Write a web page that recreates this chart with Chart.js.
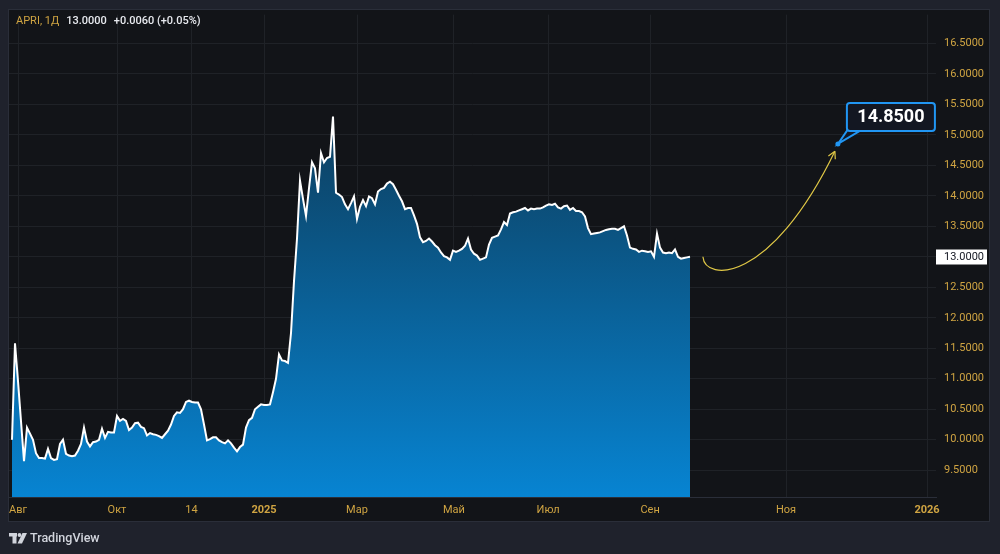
<!DOCTYPE html>
<html>
<head>
<meta charset="utf-8">
<script src="https://cdn.jsdelivr.net/npm/chart.js@4.4.1/dist/chart.umd.min.js"></script>
<style>
html, body { margin: 0; padding: 0; background: #1f222c; }
canvas { display: block; }
</style>
</head>
<body>
<canvas id="chart" width="1000" height="554"></canvas>
<script>
// daily closes, one value per sampled bar
const closes = [
  10.0, 11.58, 10.96, 10.3, 9.65, 10.2, 10.1, 10.0, 9.78, 9.70,
  9.70, 9.69, 9.85, 9.70, 9.67, 9.68, 9.93, 10.0, 9.77, 9.74,
  9.73, 9.74, 9.82, 9.93, 10.2, 9.97, 9.89, 9.96, 9.97, 10.0,
  10.18, 10.03, 10.13, 10.12, 10.12, 10.39, 10.31, 10.34, 10.31, 10.16,
  10.2, 10.27, 10.28, 10.21, 10.19, 10.07, 10.11, 10.09, 10.08, 10.06,
  10.03, 10.09, 10.15, 10.25, 10.39, 10.45, 10.44, 10.5, 10.62, 10.64,
  10.62, 10.61, 10.61, 10.5, 10.25, 9.99, 10.01, 10.04, 10.04, 9.99,
  9.96, 9.94, 9.99, 9.94, 9.87, 9.81, 9.88, 9.92, 10.2, 10.32,
  10.36, 10.5, 10.54, 10.58, 10.57, 10.57, 10.58, 10.78, 11.0, 11.4,
  11.3, 11.29, 11.26, 11.75, 12.6, 13.3, 14.25, 13.95, 13.67, 14.12,
  14.55, 14.45, 14.05, 14.7, 14.55, 14.62, 14.64, 15.3, 14.05, 14.02,
  13.98, 13.86, 13.78, 13.88, 13.99, 13.62, 13.82, 13.93, 13.83, 13.99,
  13.96, 13.86, 14.07, 14.11, 14.13, 14.2, 14.23, 14.19, 14.1, 14.0,
  13.91, 13.78, 13.8, 13.8, 13.68, 13.54, 13.32, 13.24, 13.26, 13.3,
  13.25, 13.19, 13.15, 13.07, 13.01, 12.99, 12.95, 13.1, 13.08, 13.1,
  13.13, 13.18, 13.3, 13.12, 13.05, 13.02, 12.95, 12.97, 12.99, 13.2,
  13.31, 13.33, 13.35, 13.45, 13.57, 13.52, 13.71, 13.73, 13.74, 13.76,
  13.78, 13.80, 13.76, 13.79, 13.78, 13.79, 13.79, 13.81, 13.84, 13.86,
  13.85, 13.87, 13.81, 13.79, 13.83, 13.84, 13.77, 13.80, 13.75, 13.75,
  13.73, 13.66, 13.47, 13.37, 13.38, 13.39, 13.40, 13.42, 13.44, 13.45,
  13.46, 13.46, 13.44, 13.47, 13.5, 13.35, 13.15, 13.13, 13.12, 13.08,
  13.1, 13.09, 13.08, 13.09, 13.0, 13.38, 13.15, 13.07, 13.06, 13.07,
  13.06, 13.12, 13.0, 12.97, 12.98, 12.99, 13.0
];

// time axis (bar index units)
const xTickPos = [2, 35, 59.8, 84, 115, 147.3, 178.7, 212.7, 258, 305];
const xTickLabels = ['Авг', 'Окт', '14', '2025', 'Мар', 'Май', 'Июл', 'Сен', 'Ноя', '2026'];
const yTicks = [9.5, 10, 10.5, 11, 11.5, 12, 12.5, 13, 13.5, 14, 14.5, 15, 15.5, 16, 16.5];

const symbol = 'APRI, 1Д';
const lastPrice = 13.0;
const changeText = '+0.0060 (+0.05%)';

// drawings: target callout and the forecast arrow (bar, price)
const target = { bar: 275.3, price: 14.85, label: '14.8500' };
const arrowPath = [[230.3, 13.0], [231, 12.59], [252.7, 12.54], [274.3, 14.73]];

const GOLD = '#cfa442';
const FONT = 'Roboto, "Noto Sans", sans-serif';

function areaGradient(chart) {
  const a = chart.chartArea;
  if (!a) return '#0a6aa8';
  const top = chart.scales.y.getPixelForValue(Math.max(...closes));
  const g = chart.ctx.createLinearGradient(0, top, 0, a.bottom);
  g.addColorStop(0, '#0d3e5e');
  g.addColorStop(1, '#0784d2');
  return g;
}

const tvPlugin = {
  id: 'tv',
  beforeDraw(chart) {
    const c = chart.ctx;
    c.save();
    c.fillStyle = '#1f222c';
    c.fillRect(0, 0, chart.width, chart.height);
    c.fillStyle = '#121418';
    c.fillRect(8.5, 9.5, 981, 512);
    c.strokeStyle = '#2a2e39';
    c.lineWidth = 1;
    c.strokeRect(8.5, 9.5, 981, 512);
    c.restore();
  },
  afterDraw(chart) {
    const c = chart.ctx;
    const sx = chart.scales.x, sy = chart.scales.y;
    const a = chart.chartArea;
    c.save();

    // legend line
    c.textBaseline = 'middle';
    c.font = '11px ' + FONT;
    c.fillStyle = GOLD;
    let x = 16;
    c.fillText(symbol, x, 21);
    x += c.measureText(symbol).width + 7;
    c.font = '500 11px ' + FONT;
    c.fillStyle = '#e8eaef';
    const priceTxt = lastPrice.toFixed(4);
    c.fillText(priceTxt, x, 21);
    x += c.measureText(priceTxt).width + 7;
    c.fillText(changeText, x, 21);

    // last price label
    const py = sy.getPixelForValue(lastPrice);
    c.fillStyle = '#ffffff';
    c.fillRect(a.right, Math.round(py) - 7.5, 51, 15);
    c.fillStyle = '#131722';
    c.font = '11px ' + FONT;
    c.fillText(priceTxt, a.right + 8, py);

    // forecast arrow
    const p = arrowPath.map(([b, v]) => [sx.getPixelForValue(b), sy.getPixelForValue(v)]);
    c.strokeStyle = '#e0c846';
    c.lineWidth = 1.2;
    c.beginPath();
    c.moveTo(p[0][0], p[0][1]);
    c.bezierCurveTo(p[1][0], p[1][1], p[2][0], p[2][1], p[3][0], p[3][1]);
    c.stroke();
    const ang = Math.atan2(p[3][1] - p[2][1], p[3][0] - p[2][0]);
    c.beginPath();
    [-1, 1].forEach(s => {
      c.moveTo(p[3][0], p[3][1]);
      c.lineTo(p[3][0] - 8 * Math.cos(ang + s * 0.5), p[3][1] - 8 * Math.sin(ang + s * 0.5));
    });
    c.stroke();

    // callout
    const ax = sx.getPixelForValue(target.bar), ay = sy.getPixelForValue(target.price);
    const bx = ax + 9, by = ay - 41, bw = 88, bh = 28;
    c.strokeStyle = '#2196f3';
    c.fillStyle = '#131722';
    c.lineWidth = 2;
    c.beginPath();
    c.moveTo(ax, ay);
    c.lineTo(bx + 2, by + bh - 3);
    c.lineTo(bx + 13, by + bh);
    c.closePath();
    c.fill();
    c.stroke();
    c.beginPath();
    c.roundRect(bx, by, bw, bh, 3);
    c.fill();
    c.stroke();
    c.fillStyle = '#ffffff';
    c.font = 'bold 18px ' + FONT;
    c.textAlign = 'center';
    c.fillText(target.label, bx + bw / 2, by + bh / 2 + 1);
    c.fillStyle = '#2196f3';
    c.beginPath();
    c.arc(ax, ay, 2.5, 0, Math.PI * 2);
    c.fill();

    // TradingView logo
    c.textAlign = 'left';
    c.fillStyle = '#d1d4dc';
    c.fillRect(9, 533, 8, 3.5);
    c.fillRect(12.5, 533, 4, 10.5);
    c.beginPath();
    c.arc(19.5, 535, 1.9, 0, Math.PI * 2);
    c.fill();
    c.beginPath();
    c.moveTo(22.5, 533);
    c.lineTo(27, 533);
    c.lineTo(22, 543.5);
    c.lineTo(17.5, 543.5);
    c.closePath();
    c.fill();
    c.font = '500 12.5px ' + FONT;
    c.fillText('TradingView', 30, 538.5);

    c.restore();
  }
};

new Chart(document.getElementById('chart'), {
  type: 'line',
  data: {
    datasets: [{
      data: closes.map((v, i) => ({ x: i, y: v })),
      borderColor: '#ffffff',
      borderWidth: 2,
      pointRadius: 0,
      tension: 0,
      fill: 'start',
      backgroundColor: ctx => areaGradient(ctx.chart)
    }]
  },
  options: {
    responsive: false,
    animation: false,
    devicePixelRatio: 1,
    layout: { padding: { left: 9, top: 10, right: 10, bottom: 32 } },
    plugins: { legend: { display: false }, tooltip: { enabled: false } },
    scales: {
      x: {
        type: 'linear',
        min: -1,
        max: 308,
        afterBuildTicks: s => { s.ticks = xTickPos.map(v => ({ value: v })); },
        afterFit: s => { s.height = 25; },
        ticks: {
          autoSkip: false,
          maxRotation: 0,
          padding: 7,
          color: GOLD,
          font: ctx => ({ family: FONT, size: 11, weight: /^\d{4}$/.test(xTickLabels[ctx.index]) ? 'bold' : 'normal' }),
          callback: (v, i) => xTickLabels[i]
        },
        grid: { color: '#1f2227', drawTicks: false },
        border: { display: true, color: '#2a2e39' }
      },
      y: {
        position: 'right',
        min: 9.061,
        max: 16.971,
        afterBuildTicks: s => { s.ticks = yTicks.map(v => ({ value: v })); },
        afterFit: s => { s.width = 54; },
        ticks: {
          padding: 8,
          color: GOLD,
          font: { family: FONT, size: 11 },
          callback: v => v.toFixed(4)
        },
        grid: { color: '#1f2227', drawTicks: false },
        border: { display: false }
      }
    }
  },
  plugins: [tvPlugin]
});
</script>
</body>
</html>
